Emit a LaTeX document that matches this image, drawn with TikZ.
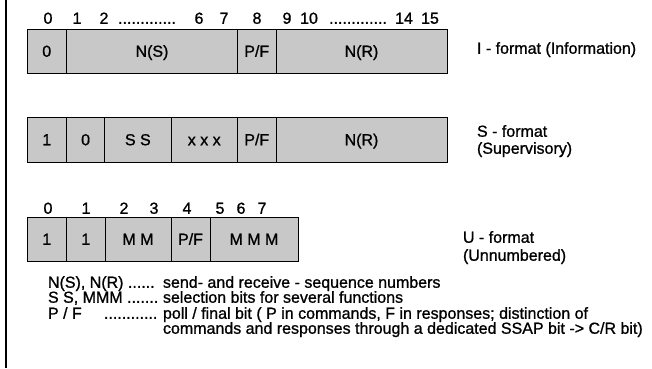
\documentclass[tikz,border=0pt]{standalone}
\usepackage{fontspec}
\setmainfont[FakeBold=1.0]{Liberation Sans}
\definecolor{boxgray}{RGB}{200,200,200}
\begin{document}
\begin{tikzpicture}[x=1pt,y=-1pt,
  every node/.style={inner sep=0pt, outer sep=0pt, font=\fontsize{16}{17}\selectfont, text height=11.5pt, text depth=0pt},
  cell/.style={draw=black, line width=1pt, fill=boxgray, minimum height=44pt},
  num/.style={anchor=center},
  lbl/.style={anchor=west}]
\useasboundingbox (0,0) rectangle (652,368);
\draw[line width=2pt] (6,0) -- (6,368);

% I-format header
\node[num] (h0) at (48,18) {0};
\node[num] (h1) at (77,18) {1};
\node[num] (h2) at (104,18) {2};
\node[num] (hd1) at (147,18) {.............};
\node[num] (h6) at (199,18) {6};
\node[num] (h7) at (224,18) {7};
\node[num] (h8) at (257,18) {8};
\node[num] (h9) at (287,18) {9};
\node[num] (h10) at (309,18) {10};
\node[num] (hd2) at (358,18) {.............};
\node[num] (h14) at (404,18) {14};
\node[num] (h15) at (430,18) {15};

% I-format box
\node[cell, minimum width=39.5pt] (i1) at (46.75,51) {0};
\node[cell, minimum width=171pt] (i2) at (152,51) {N(S)};
\node[cell, minimum width=38.5pt] (i3) at (256.75,51) {P/F};
\node[cell, minimum width=171pt] (i4) at (361.5,51) {N(R)};
\node[lbl] (il) at (477,48) {I - format (Information)};

% S-format box
\node[cell, minimum width=39.5pt, minimum height=45pt] (s1) at (46.75,139.5) {1};
\node[cell, minimum width=38.2pt, minimum height=45pt] (s2) at (85.6,139.5) {0};
\node[cell, minimum width=66.3pt, minimum height=45pt] (s3) at (137.85,139.5) {S S};
\node[cell, minimum width=66.5pt, minimum height=45pt] (s4) at (204.25,139.5) {x x x};
\node[cell, minimum width=38.5pt, minimum height=45pt] (s5) at (256.75,139.5) {P/F};
\node[cell, minimum width=171pt, minimum height=45pt] (s6) at (361.5,139.5) {N(R)};
\node[lbl] (sl1) at (477,131) {S - format};
\node[lbl] (sl2) at (477,148) {(Supervisory)};

% U-format header
\node[num] (u0) at (48,208) {0};
\node[num] (u1) at (86,208) {1};
\node[num] (u2) at (124,208) {2};
\node[num] (u3) at (154,208) {3};
\node[num] (u4) at (187,208) {4};
\node[num] (u5) at (220,208) {5};
\node[num] (u6) at (241,208) {6};
\node[num] (u7) at (262,208) {7};

% U-format box
\node[cell, minimum width=39.5pt] (c1) at (46.75,239) {1};
\node[cell, minimum width=38.5pt] (c2) at (85.75,239) {1};
\node[cell, minimum width=66pt] (c3) at (138,239) {M M};
\node[cell, minimum width=39pt] (c4) at (190.5,239) {P/F};
\node[cell, minimum width=88pt] (c5) at (254,239) {M M M};
\node[lbl] (ul1) at (463,237) {U - format};
\node[lbl] (ul2) at (463,255) {(Unnumbered)};

% legend
\node[lbl] (k1) at (48,282) {N(S), N(R) ......};
\node[lbl] (k2) at (48,297) {S S, MMM .......};
\node[lbl] (k3) at (48,313) {P / F};
\node[lbl] (k3d) at (104,313) {............};
\node[lbl] (v1) at (163,282) {send- and receive - sequence numbers};
\node[lbl] (v2) at (163,297) {selection bits for several functions};
\node[lbl] (v3) at (163,313) {poll / final bit ( P in commands, F in responses; distinction of};
\node[lbl] (v4) at (163,328) {commands and responses through a dedicated SSAP bit -> C/R bit)};
\end{tikzpicture}
\end{document}
